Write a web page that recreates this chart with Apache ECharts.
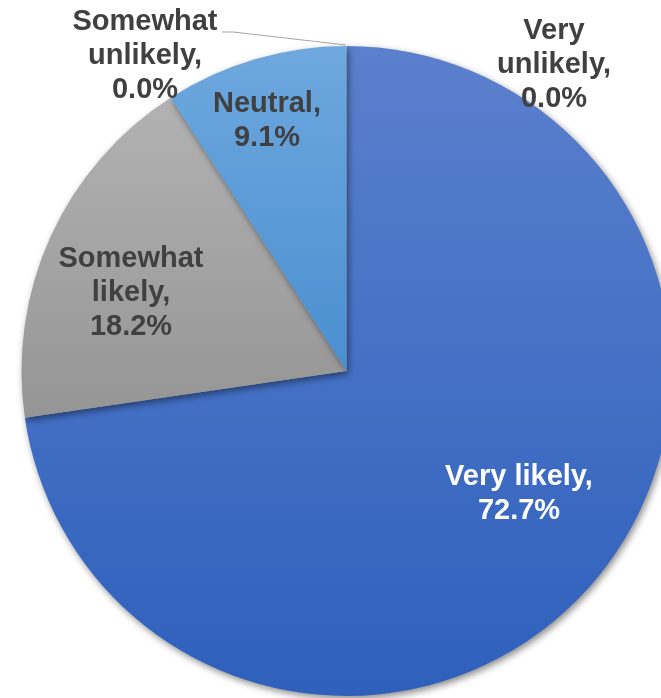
<!DOCTYPE html>
<html>
<head>
<meta charset="utf-8">
<script src="https://cdn.jsdelivr.net/npm/echarts@6/dist/echarts.min.js"></script>
<style>
  html, body { margin: 0; padding: 0; background: #ffffff; }
  #chart { width: 661px; height: 698px; }
</style>
</head>
<body>
<div id="chart"></div>
<script>
// Survey responses, clockwise from 12 o'clock
var categories = ['Very likely', 'Somewhat likely', 'Neutral', 'Somewhat unlikely', 'Very unlikely'];
var shares = [72.7, 18.2, 9.1, 0.0, 0.0];

// Fill gradients (top colour, bottom colour) per slice
var fills = [
  ['#5b80cd', '#2e60bc'],
  ['#b2b2b2', '#959595'],
  ['#6ea8de', '#4a8fd1'],
  ['#bdbdbd', '#a0a0a0'],
  ['#a9c0e6', '#8aa7da']
];

// Label anchor points (centre of each label block)
var labelSpots = {
  'Very likely': [519, 494],
  'Somewhat likely': [131, 293],
  'Neutral': [267, 121],
  'Somewhat unlikely': [145, 56],
  'Very unlikely': [554, 65]
};

var chart = echarts.init(document.getElementById('chart'), null, { renderer: 'canvas' });

var data = categories.map(function (name, i) {
  var item = {
    name: name,
    value: shares[i],
    itemStyle: {
      color: {
        type: 'linear', x: 0, y: 0, x2: 0, y2: 1,
        colorStops: [
          { offset: 0, color: fills[i][0] },
          { offset: 1, color: fills[i][1] }
        ]
      }
    },
    label: { color: i === 0 ? '#ffffff' : '#404040' }
  };
  if (name === 'Somewhat unlikely') {
    item.label.position = 'outside';
    item.labelLine = { show: true, lineStyle: { color: '#a6a6a6', width: 1.2 } };
  }
  return item;
});

chart.setOption({
  animation: false,
  series: [{
    type: 'pie',
    center: [346.5, 371],
    radius: [0, 325],
    startAngle: 90,
    clockwise: true,
    avoidLabelOverlap: false,
    minShowLabelAngle: 0,
    itemStyle: {
      borderWidth: 0,
      shadowColor: 'rgba(0,0,0,0.45)',
      shadowBlur: 7,
      shadowOffsetX: 2,
      shadowOffsetY: 3
    },
    emphasis: { disabled: true },
    label: {
      show: true,
      position: 'inside',
      fontFamily: '"Liberation Sans", Arial, sans-serif',
      fontWeight: 'bold',
      fontSize: 29,
      lineHeight: 34,
      align: 'center',
      formatter: function (p) {
        var pct = p.value.toFixed(1) + '%';
        var words = p.name.split(' ');
        if (p.name === 'Very likely') return p.name + ',\n' + pct;
        if (p.name === 'Neutral') return p.name + ',\n' + pct;
        return words[0] + '\n' + words[1] + ',\n' + pct;
      }
    },
    labelLine: { show: false },
    labelLayout: function (params) {
      var name = categories[params.dataIndex];
      var spot = labelSpots[name];
      var out = { x: spot[0], y: spot[1], align: 'center', verticalAlign: 'middle' };
      if (name === 'Somewhat unlikely') {
        out.labelLinePoints = [[346, 45], [233, 32], [222, 32]];
      }
      return out;
    },
    data: data
  }]
});
</script>
</body>
</html>
